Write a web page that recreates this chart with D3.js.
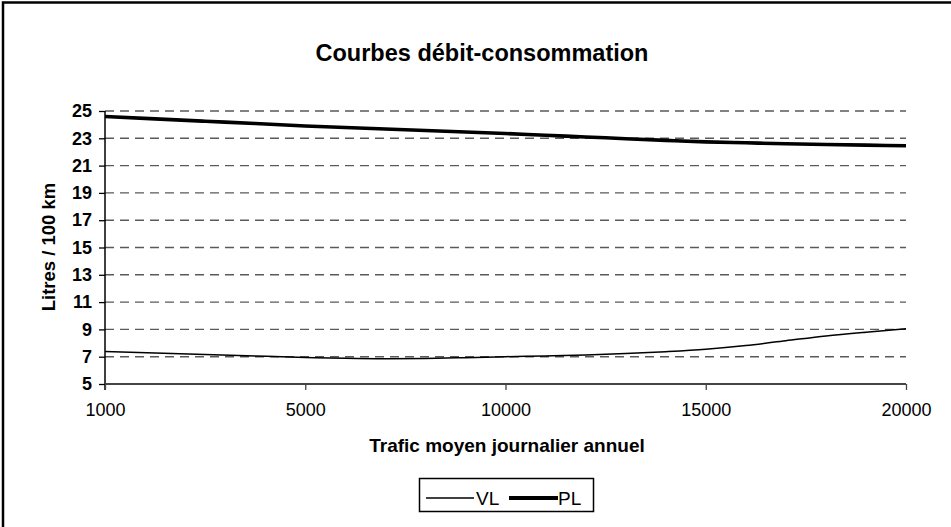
<!DOCTYPE html>
<html>
<head>
<meta charset="utf-8">
<script src="https://cdn.jsdelivr.net/npm/d3@7"></script>
<style>
  html, body { margin: 0; padding: 0; background: #fff; }
  svg { display: block; font-family: "Liberation Sans", Arial, sans-serif; }
</style>
</head>
<body>
<svg id="chart" width="951" height="527"></svg>
<script>
// ---- data ----
const title = "Courbes débit-consommation";
const xTitle = "Trafic moyen journalier annuel";
const yTitle = "Litres / 100 km";
const xTickLabels = [1000, 5000, 10000, 15000, 20000];
const yTickValues = [5, 7, 9, 11, 13, 15, 17, 19, 21, 23, 25];
const trafic = [1000, 2000, 3000, 4000, 5000, 6000, 7000, 8000, 9000, 10000,
                11000, 12000, 13000, 14000, 15000, 16000, 17000, 18000, 19000, 20000];
const vl = [7.38, 7.27, 7.16, 7.05, 6.95, 6.88, 6.85, 6.87, 6.93, 7.0,
            7.06, 7.13, 7.23, 7.37, 7.55, 7.82, 8.17, 8.52, 8.8, 9.05];
const pl = [24.6, 24.42, 24.25, 24.08, 23.9, 23.79, 23.68, 23.57, 23.46, 23.35,
            23.22, 23.1, 22.97, 22.85, 22.74, 22.67, 22.6, 22.55, 22.5, 22.45];
const seriesNames = ["VL", "PL"];

// ---- layout ----
const svg = d3.select("#chart");
const mLeft = 105, mRight = 906, mTop = 111, mBottom = 384;

// x: category-style axis, labelled categories equally spaced
const x = d3.scaleLinear()
  .domain(xTickLabels)
  .range(xTickLabels.map((d, i) => mLeft + i * (mRight - mLeft) / (xTickLabels.length - 1)));
const y = d3.scaleLinear().domain([5, 25]).range([mBottom, mTop]);

// frame (top & left edges visible)
svg.append("path").attr("d", `M3,527 L3,2.5 L951,2.5`)
  .attr("fill", "none").attr("stroke", "#000").attr("stroke-width", 2.5);

// title
svg.append("text").attr("x", 482).attr("y", 61)
  .attr("text-anchor", "middle").attr("font-size", 23.5).attr("font-weight", "bold")
  .text(title);

// gridlines
svg.append("g").selectAll("line").data(yTickValues.filter(v => v > 5)).join("line")
  .attr("x1", mLeft).attr("x2", mRight)
  .attr("y1", d => y(d)).attr("y2", d => y(d))
  .attr("stroke", "#5a5a5a").attr("stroke-width", 1.4).attr("stroke-dasharray", "9,6");

// y axis
const yAxis = svg.append("g").attr("transform", `translate(${mLeft},0)`)
  .call(d3.axisLeft(y).tickValues(yTickValues).tickSize(6).tickPadding(7).tickFormat(d3.format("d")));
yAxis.select(".domain").attr("stroke", "#000").attr("stroke-width", 1.5)
  .attr("d", `M0,${mTop} V${mBottom + 6}`);
yAxis.selectAll(".tick line").attr("stroke", "#000").attr("stroke-width", 1.3);
yAxis.selectAll(".tick text").attr("font-size", 18).attr("font-weight", "bold")
  .attr("font-family", "Liberation Sans, Arial, sans-serif").attr("fill", "#000");

// x axis
const xAxis = svg.append("g").attr("transform", `translate(0,${mBottom})`)
  .call(d3.axisBottom(x).tickValues(xTickLabels).tickSize(6).tickPadding(13).tickFormat(d3.format("d")));
xAxis.select(".domain").attr("stroke", "#444").attr("stroke-width", 1.8)
  .attr("d", `M${mLeft},0 H${mRight}`);
xAxis.selectAll(".tick line").attr("stroke", "#444").attr("stroke-width", 1.3);
xAxis.selectAll(".tick text").attr("font-size", 18)
  .attr("font-family", "Liberation Sans, Arial, sans-serif").attr("fill", "#000");

// axis titles
svg.append("text").attr("x", 507).attr("y", 452)
  .attr("text-anchor", "middle").attr("font-size", 19).attr("font-weight", "bold")
  .text(xTitle);
svg.append("text").attr("transform", `translate(55,247) rotate(-90)`)
  .attr("text-anchor", "middle").attr("font-size", 18.5).attr("font-weight", "bold")
  .text(yTitle);

// lines
const line = d3.line().x((d, i) => x(trafic[i])).y(d => y(d)).curve(d3.curveMonotoneX);
svg.append("path").datum(vl).attr("d", line)
  .attr("fill", "none").attr("stroke", "#000").attr("stroke-width", 1.5);
svg.append("path").datum(pl).attr("d", line)
  .attr("fill", "none").attr("stroke", "#000").attr("stroke-width", 3.6);

// legend
const lg = svg.append("g");
lg.append("rect").attr("x", 419.5).attr("y", 478.5).attr("width", 174).attr("height", 33)
  .attr("fill", "#fff").attr("stroke", "#000").attr("stroke-width", 1.5);
lg.append("line").attr("x1", 426).attr("x2", 474).attr("y1", 498).attr("y2", 498)
  .attr("stroke", "#000").attr("stroke-width", 1.3);
lg.append("text").attr("x", 476).attr("y", 505).attr("font-size", 19).text(seriesNames[0]);
lg.append("line").attr("x1", 509).attr("x2", 558).attr("y1", 498).attr("y2", 498)
  .attr("stroke", "#000").attr("stroke-width", 4);
lg.append("text").attr("x", 558).attr("y", 505).attr("font-size", 19).text(seriesNames[1]);
</script>
</body>
</html>
